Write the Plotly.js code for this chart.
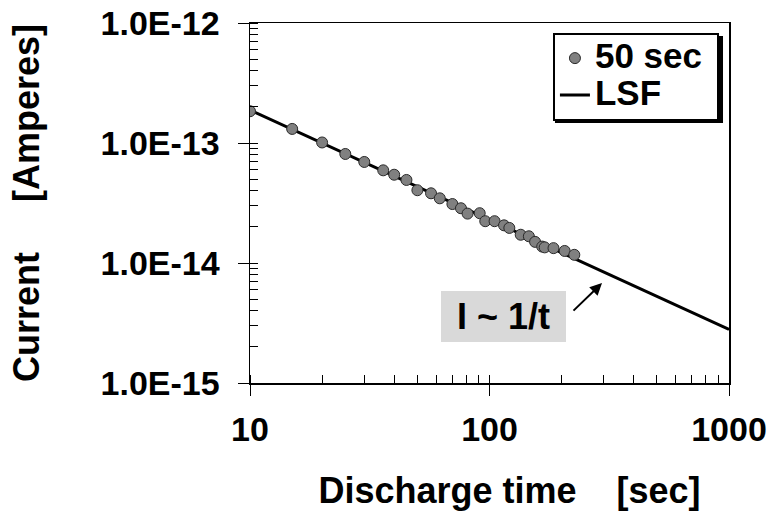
<!DOCTYPE html>
<html>
<head>
<meta charset="utf-8">
<script src="https://cdn.plot.ly/plotly-3.0.1.min.js"></script>
<style>html,body{margin:0;padding:0;background:#fff;}#chart{width:772px;height:514px;}</style>
</head>
<body>
<div id="chart"></div>
<script>
// Data
const timeSec = [10, 15, 20, 25, 30, 36, 40, 45, 50, 57, 62, 70, 76, 81, 91, 96, 105, 115, 121, 135, 146, 155, 166, 170, 185, 206, 226];
const currentA = [1.84e-13, 1.31e-13, 1.01e-13, 8.1e-14, 6.95e-14, 5.92e-14, 5.44e-14, 4.92e-14, 4.04e-14, 3.81e-14, 3.46e-14, 3.10e-14, 2.86e-14, 2.58e-14, 2.60e-14, 2.23e-14, 2.23e-14, 2.06e-14, 1.96e-14, 1.72e-14, 1.67e-14, 1.50e-14, 1.37e-14, 1.35e-14, 1.33e-14, 1.26e-14, 1.17e-14];
const lsfTime = [10, 1000];
const lsfCurrent = [1.88e-13, 2.8e-15];
const xTickVals = [10, 100, 1000];
const xTickText = ['10', '100', '1000'];
const yTickVals = [1e-15, 1e-14, 1e-13, 1e-12];
const yTickText = ['1.0E-15', '1.0E-14', '1.0E-13', '1.0E-12'];
const seriesNames = ['50 sec', 'LSF'];
const annotText = 'I ~ 1/t';
const annotTime = 295;
const annotCurrent = 6.8e-15;

const FONT = 'Liberation Sans, Arial, Helvetica, sans-serif';
const NB = '\u00A0';
const ZW = '\u200B';
const big = s => '<span style="font-size:35px">' + s + NB + '</span>';

const traces = [
  {
    x: lsfTime, y: lsfCurrent, mode: 'lines', name: big(seriesNames[1]),
    line: {color: '#000', width: 3}, legendrank: 2
  },
  {
    x: timeSec, y: currentA, mode: 'markers', name: big(seriesNames[0]),
    marker: {color: '#808080', size: 11, line: {color: '#2a2a2a', width: 1}},
    legendrank: 1
  }
];

const axisCommon = {
  type: 'log', showgrid: false, zeroline: false,
  showline: true, linecolor: '#000', linewidth: 1.5, mirror: true,
  ticks: 'outside', ticklen: 11, tickwidth: 1, tickcolor: '#000',
  tickmode: 'array',
  tickfont: {family: FONT, size: 34, color: '#000', weight: 'bold'},
  minor: {ticks: 'inside', ticklen: 8, tickwidth: 1, tickcolor: '#000', dtick: 'D1', showgrid: false}
};

const layout = {
  width: 772, height: 514,
  margin: {l: 250, r: 43, t: 23, b: 131},
  paper_bgcolor: '#fff', plot_bgcolor: '#fff',
  showlegend: true,
  xaxis: Object.assign({}, axisCommon, {
    range: [1, 3], tickvals: xTickVals, ticktext: xTickText, ticklabelstandoff: 5,
    title: {text: ZW + NB.repeat(4) + 'Discharge time' + NB.repeat(4) + '[sec]', font: {family: FONT, size: 36, color: '#000', weight: 'bold'}, standoff: 30}
  }),
  yaxis: Object.assign({}, axisCommon, {
    range: [-15, -12], tickvals: yTickVals, ticktext: yTickText, ticklabelstandoff: 11,
    title: {text: 'Current' + NB.repeat(5) + '[Amperes]', font: {family: FONT, size: 36, color: '#000', weight: 'bold'}, standoff: 50}
  }),
  legend: {
    x: 0.979, y: 0.973, xanchor: 'right', yanchor: 'top',
    bgcolor: '#fff', bordercolor: '#000', borderwidth: 2,
    font: {family: FONT, size: 26, color: '#000', weight: 'bold'},
    itemwidth: 30, tracegroupgap: 0
  },
  shapes: [{
    type: 'rect', xref: 'paper', yref: 'paper', layer: 'above',
    x0: 0.6367, x1: 0.9875, y0: 0.7222, y1: 0.9639,
    fillcolor: '#000', line: {width: 0}
  }],
  annotations: [
    {
      xref: 'paper', yref: 'paper', x: 0.530, y: 0.186, xanchor: 'center', yanchor: 'middle',
      text: annotText, showarrow: false, bgcolor: '#d9d9d9', borderpad: 0, borderwidth: 0,
      width: 125, height: 51,
      font: {family: FONT, size: 36, color: '#000', weight: 'bold'}
    },
    {
      x: Math.log10(annotTime), y: Math.log10(annotCurrent), xref: 'x', yref: 'y',
      text: '', showarrow: true, arrowhead: 2, arrowsize: 1.2, arrowwidth: 2, arrowcolor: '#000',
      ax: -30, ay: 29, standoff: 0
    }
  ]
};

Plotly.newPlot('chart', traces, layout, {displayModeBar: false, staticPlot: true});
</script>
</body>
</html>
